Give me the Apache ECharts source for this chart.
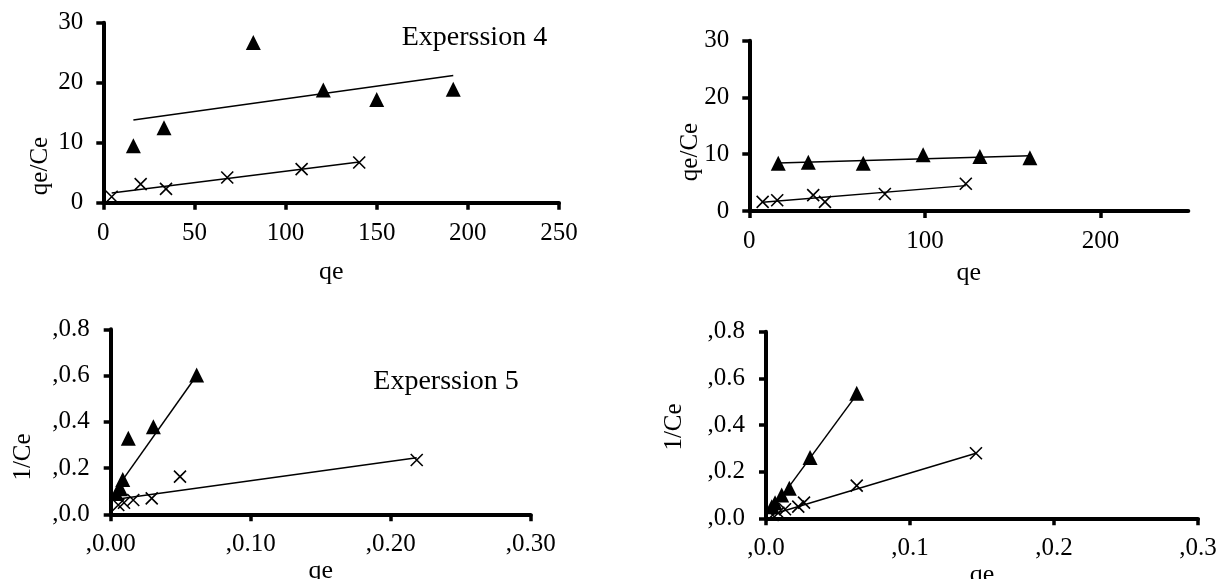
<!DOCTYPE html>
<html>
<head>
<meta charset="utf-8">
<script src="https://cdn.jsdelivr.net/npm/echarts@6/dist/echarts.min.js"></script>
<style>
html,body{margin:0;padding:0;background:#fff;}
#c{width:1221px;height:579px;}
</style>
</head>
<body>
<div id="c"></div>
<script>
// ---------- Panel 1 (top-left, Experssion 4) ----------
const p1TriX = [16.5, 33.3, 82.3, 120.7, 150.0, 192.0];
const p1TriY = [9.5, 12.5, 26.7, 18.8, 17.2, 18.9];
const p1CrossX = [4.6, 20.5, 34.4, 68.0, 108.8, 140.4];
const p1CrossY = [1.0, 3.1, 2.3, 4.2, 5.6, 6.7];
const p1TriFitX = [16.5, 192.0];
const p1TriFitY = [13.8, 21.2];
const p1CrossFitX = [4.6, 140.4];
const p1CrossFitY = [1.6, 6.8];
const p1XTicks = ['0', '50', '100', '150', '200', '250'];
const p1YTicks = ['0', '10', '20', '30'];

// ---------- Panel 2 (top-right) ----------
const p2TriX = [16.5, 33.6, 64.9, 99.0, 131.3, 159.8];
const p2TriY = [8.4, 8.6, 8.4, 9.9, 9.6, 9.4];
const p2CrossX = [7.6, 15.9, 36.4, 43.1, 77.2, 123.3];
const p2CrossY = [1.6, 1.9, 2.8, 1.6, 3.0, 4.8];
const p2TriFitX = [16.5, 159.8];
const p2TriFitY = [8.45, 9.72];
const p2CrossFitX = [7.6, 123.3];
const p2CrossFitY = [1.55, 4.47];
const p2XTicks = ['0', '100', '200'];
const p2YTicks = ['0', '10', '20', '30'];

// ---------- Panel 3 (bottom-left, Experssion 5) ----------
const p3TriX = [0.004, 0.007, 0.0086, 0.0126, 0.0305, 0.0614];
const p3TriY = [0.09, 0.11, 0.151, 0.329, 0.379, 0.602];
const p3CrossX = [0.0054, 0.0095, 0.0161, 0.0293, 0.0495, 0.2186];
const p3CrossY = [0.040, 0.050, 0.062, 0.069, 0.163, 0.235];
const p3TriFitX = [0.004, 0.0614];
const p3TriFitY = [0.11, 0.60];
const p3CrossFitX = [0.0054, 0.2186];
const p3CrossFitY = [0.066, 0.245];
const p3XTicks = [',0.00', ',0.10', ',0.20', ',0.30'];
const p3YTicks = [',0.0', ',0.2', ',0.4', ',0.6', ',0.8'];

// ---------- Panel 4 (bottom-right) ----------
const p4TriX = [0.004, 0.0063, 0.0109, 0.0162, 0.0306, 0.063];
const p4TriY = [0.05, 0.067, 0.100, 0.129, 0.261, 0.536];
const p4CrossX = [0.0046, 0.0086, 0.0132, 0.0224, 0.0264, 0.063, 0.1458];
const p4CrossY = [0.014, 0.024, 0.039, 0.050, 0.067, 0.140, 0.279];
const p4TriFitX = [0.004, 0.063];
const p4TriFitY = [0.035, 0.53];
const p4CrossFitX = [0.0046, 0.1458];
const p4CrossFitY = [0.017, 0.279];
const p4XTicks = [',0.0', ',0.1', ',0.2', ',0.3'];
const p4YTicks = [',0.0', ',0.2', ',0.4', ',0.6', ',0.8'];

const xTitle = 'qe';
const yTitleTop = 'qe/Ce';
const yTitleBottom = '1/Ce';
const note1 = 'Experssion 4';
const note2 = 'Experssion 5';

// ---------- helpers ----------
const FONT = '"Liberation Serif", "Times New Roman", "DejaVu Serif", serif';
const zip = (xs, ys) => xs.map((x, i) => [x, ys[i]]);
const CROSS = 'path://M0,0L10,10M10,0L0,10';

function axisBase(min, max, interval, labels, margin) {
  return {
    type: 'value', min: min, max: max, interval: interval,
    splitLine: { show: false },
    axisLine: { show: true, onZero: false, lineStyle: { color: '#000', width: 4 } },
    axisTick: { show: true, inside: false, length: 7, lineStyle: { color: '#000', width: 3.5 } },
    axisLabel: {
      color: '#000', fontFamily: FONT, fontSize: 25, margin: margin,
      showMinLabel: true, showMaxLabel: true, hideOverlap: false,
      formatter: function (v) {
        const i = Math.round((v - min) / interval);
        return labels[i] !== undefined ? labels[i] : '';
      }
    }
  };
}

const grids = [
  { left: 103.3, top: 22.7, width: 455.7, height: 180 },
  { left: 749.3, top: 40.7, width: 439, height: 170.3 },
  { left: 110.7, top: 329.3, width: 420, height: 185 },
  { left: 766, top: 331.7, width: 432, height: 186.6 }
].map(g => Object.assign({ containLabel: false, outerBoundsMode: 'none' }, g));

const nameStyle = { color: '#000', fontFamily: FONT, fontSize: 26 };

const xAxes = [
  Object.assign(axisBase(0, 250, 50, p1XTicks, 18), { gridIndex: 0, name: xTitle, nameLocation: 'middle', nameGap: 56,
    nameTextStyle: nameStyle }),
  (function () {
    const a = axisBase(0, 250, 100, p2XTicks, 18);
    a.axisLabel.customValues = [0, 100, 200];
    a.axisTick.customValues = [0, 100, 200];
    return Object.assign(a, { gridIndex: 1, name: xTitle, nameLocation: 'middle', nameGap: 49,
      nameTextStyle: nameStyle });
  })(),
  Object.assign(axisBase(0, 0.3, 0.1, p3XTicks, 18), { gridIndex: 2, name: xTitle, nameLocation: 'middle', nameGap: 38,
    nameTextStyle: nameStyle }),
  Object.assign(axisBase(0, 0.3, 0.1, p4XTicks, 18), { gridIndex: 3, name: xTitle, nameLocation: 'middle', nameGap: 34,
    nameTextStyle: nameStyle })
];

const yAxes = [
  Object.assign(axisBase(0, 30, 10, p1YTicks, 20), { gridIndex: 0 }),
  Object.assign(axisBase(0, 30, 10, p2YTicks, 20), { gridIndex: 1 }),
  Object.assign(axisBase(0, 0.8, 0.2, p3YTicks, 21), { gridIndex: 2 }),
  Object.assign(axisBase(0, 0.8, 0.2, p4YTicks, 21), { gridIndex: 3 })
];

function panelSeries(idx, triX, triY, crX, crY, tfX, tfY, cfX, cfY) {
  return [
    { type: 'line', xAxisIndex: idx, yAxisIndex: idx, data: zip(tfX, tfY), symbol: 'none',
      lineStyle: { color: '#000', width: 1.5 }, silent: true, z: 2 },
    { type: 'line', xAxisIndex: idx, yAxisIndex: idx, data: zip(cfX, cfY), symbol: 'none',
      lineStyle: { color: '#000', width: 1.5 }, silent: true, z: 2 },
    { type: 'scatter', xAxisIndex: idx, yAxisIndex: idx, data: zip(triX, triY), symbol: 'triangle',
      symbolSize: 15, itemStyle: { color: '#000', opacity: 1 }, z: 3 },
    { type: 'scatter', xAxisIndex: idx, yAxisIndex: idx, data: zip(crX, crY), symbol: CROSS,
      symbolSize: 12, itemStyle: { color: 'none', borderColor: '#000', borderWidth: 1.6, opacity: 1 }, z: 3 }
  ];
}

const series = [].concat(
  panelSeries(0, p1TriX, p1TriY, p1CrossX, p1CrossY, p1TriFitX, p1TriFitY, p1CrossFitX, p1CrossFitY),
  panelSeries(1, p2TriX, p2TriY, p2CrossX, p2CrossY, p2TriFitX, p2TriFitY, p2CrossFitX, p2CrossFitY),
  panelSeries(2, p3TriX, p3TriY, p3CrossX, p3CrossY, p3TriFitX, p3TriFitY, p3CrossFitX, p3CrossFitY),
  panelSeries(3, p4TriX, p4TriY, p4CrossX, p4CrossY, p4TriFitX, p4TriFitY, p4CrossFitX, p4CrossFitY)
);

function vText(txt, x, y) {
  return { type: 'text', x: x, y: y, rotation: Math.PI / 2,
    style: { text: txt, fill: '#000', font: '25px ' + FONT, align: 'center', verticalAlign: 'middle' } };
}
function hText(txt, x, y) {
  return { type: 'text', x: x, y: y,
    style: { text: txt, fill: '#000', font: '28px ' + FONT, align: 'left', verticalAlign: 'middle' } };
}

const chart = echarts.init(document.getElementById('c'), null, { renderer: 'canvas' });
chart.setOption({
  animation: false,
  backgroundColor: '#fff',
  grid: grids,
  xAxis: xAxes,
  yAxis: yAxes,
  series: series,
  graphic: [
    vText(yTitleTop, 40, 166),
    vText(yTitleTop, 690, 152),
    vText(yTitleBottom, 23.5, 457),
    vText(yTitleBottom, 674, 427),
    hText(note1, 401.7, 38),
    hText(note2, 373.3, 382)
  ]
});
</script>
</body>
</html>
